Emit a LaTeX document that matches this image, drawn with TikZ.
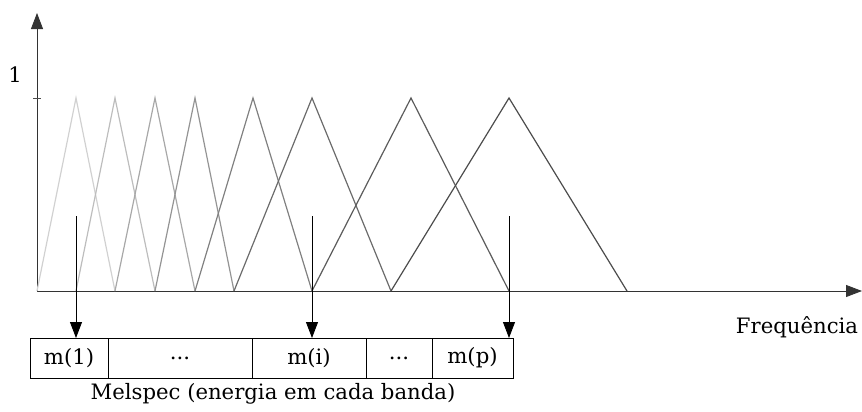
\documentclass[tikz,border=0pt]{standalone}
\usepackage{fontspec}
\setmainfont{DejaVu Serif}
\usetikzlibrary{arrows.meta,positioning}

\begin{document}
\begin{tikzpicture}[x=0.5pt,y=-0.5pt,>={Triangle[length=8pt,width=6pt]},
  font=\fontsize{10.6}{12}\selectfont,
  cell/.style={draw,minimum height=20pt,inner sep=0pt,outer sep=0pt}]
  \useasboundingbox (0,0) rectangle (862,412);
  % axes
  \draw[->,black!80] (37,291) -- (37,13);
  \draw[->,black!80] (37,291) -- (862,291);
  \draw[black!70] (33,98) -- (41,98);
  \node (one) at (15,75) {1};
  % mel filters
  \foreach \a/\b/\c/\s in {37/76/115/18,76/115/155/26,115/155/195/34,155/195/234/42,
                           195/253/312/50,234/312/391/58,312/411/509/64,391/509/627/70}
    \draw[black!\s,line width=0.6pt] (\a,291) -- (\b,98) -- (\c,291);
  % bands
  \node[cell,minimum width=39pt,anchor=north west] (m1) at (30,338) {m(1)};
  \node[cell,minimum width=72pt,right=0pt of m1] (d1) {...};
  \node[cell,minimum width=57pt,right=0pt of d1] (mi) {m(i)};
  \node[cell,minimum width=33pt,right=0pt of mi] (d2) {...};
  \node[cell,minimum width=40.5pt,right=0pt of d2] (mp) {m(p)};
  \coordinate (s1) at (76,216);
  \coordinate (si) at (312,216);
  \coordinate (sp) at (509,216);
  \draw[->] (s1) -- (s1 |- m1.north);
  \draw[->] (si) -- (si |- mi.north);
  \draw[->] (sp) -- (sp |- mp.north);
  \node (mel) at (273,394) {Melspec (energia em cada banda)};
  \node (freq) at (797,327) {Frequência};
\end{tikzpicture}
\end{document}
